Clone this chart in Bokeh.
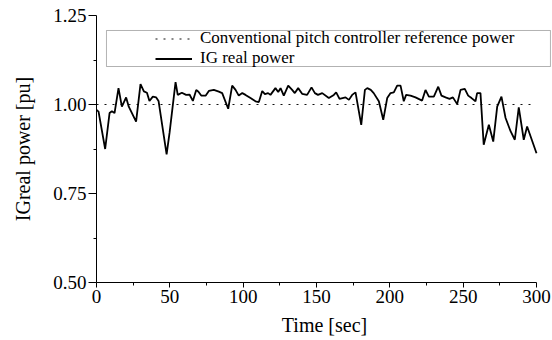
from bokeh.plotting import figure
from bokeh.models import Legend, LegendItem, BoxAnnotation, FixedTicker, NumeralTickFormatter, Range1d
from bokeh.embed import file_html
from bokeh.resources import INLINE

time_s = [0, 1.4, 5.9, 8.9, 10.5, 12.3, 15, 17.3, 20.2, 22, 27, 30, 32.3, 34.4, 36.1, 38.4, 40.7, 42.3,
          47.8, 49.8, 53.9, 55.4, 58.2, 61.1, 63.4, 65.7, 68, 69.5, 71.4, 74.5, 76.6, 80, 83.4, 85.7,
          89.8, 92.5, 94.8, 97, 99.4, 101.6, 105, 108.4, 110.7, 113, 114.8, 117, 118.6, 122, 123.9,
          125.5, 127.7, 130.7, 133.4, 135.2, 137.5, 140.2, 143.6, 146.6, 148.9, 151, 153.9, 158.4,
          161.8, 163.4, 165.7, 169.8, 172.1, 174.3, 176.6, 180.5, 183, 184.6, 187, 189, 192.5, 195.5,
          198.2, 200.5, 202.7, 205, 207.3, 209.5, 211.1, 214.1, 217.5, 222, 224.3, 226.6, 230, 233,
          235.2, 238, 240.7, 243, 245.9, 248.2, 251.1, 253.4, 255.7, 258.4, 259.5, 261.8, 264, 267.5,
          270.5, 273.2, 276.1, 278.9, 282.3, 285.2, 287.9, 291.3, 293.6, 300]
ig_power = [0.985, 0.98, 0.875, 0.976, 0.981, 0.976, 1.046, 0.994, 1.02, 0.994, 0.952, 1.057, 1.037,
            1.033, 1.01, 1.022, 1.02, 1.01, 0.86, 0.92, 1.063, 1.027, 1.033, 1.027, 1.028, 1.01, 1.041,
            1.036, 1.025, 1.025, 1.038, 1.041, 1.036, 1.032, 0.988, 1.053, 1.041, 1.025, 1.032, 1.027,
            1.018, 1.009, 1.007, 1.038, 1.029, 1.032, 1.027, 1.046, 1.035, 1.046, 1.025, 1.053, 1.041,
            1.032, 1.046, 1.03, 1.027, 1.048, 1.032, 1.027, 1.032, 1.018, 1.027, 1.034, 1.016, 1.02,
            1.013, 1.027, 1.034, 0.943, 1.041, 1.046, 1.041, 1.032, 1.009, 0.957, 1.018, 1.032, 1.034,
            1.053, 1.053, 1.009, 1.027, 1.025, 1.02, 1.011, 1.041, 1.022, 1.022, 1.05, 1.025, 1.02,
            1.016, 1.02, 1.001, 1.041, 1.044, 1.025, 1.018, 1.009, 1.032, 1.032, 0.887, 0.943, 0.896,
            0.994, 1.022, 0.962, 0.925, 0.901, 0.992, 0.901, 0.938, 0.863]

ref_time = [0, 298]
ref_power = [1.0, 1.0]

x_ticks = [0, 50, 100, 150, 200, 250, 300]
x_minor = [25, 75, 125, 175, 225, 275]
y_ticks = [0.50, 0.75, 1.00, 1.25]
y_minor = [0.625, 0.875, 1.125]

labels = ["Conventional pitch controller reference power", "IG real power"]

FONT = "Liberation Serif"

# frame spans 0..300 on 440 px; it is widened to the right (axis bounded to 0..300)
# so that the legend box, which overhangs the axis end, stays inside the frame
p = figure(width=552, height=340, output_backend="svg", toolbar_location=None,
           x_range=Range1d(0, 310.9), y_range=Range1d(0.5, 1.25),
           min_border_left=96, min_border_right=0, min_border_top=15, min_border_bottom=58)
p.outline_line_color = None
p.xgrid.grid_line_color = None
p.ygrid.grid_line_color = None
p.xaxis.bounds = (0, 300)

r_ref = p.line(ref_time, ref_power, line_color="#111111", line_width=1.2, line_dash="2 6")
r_ig = p.line(time_s, ig_power, line_color="black", line_width=1.8)

box = BoxAnnotation(left=6.8, right=309.5, top=1.2079, bottom=1.1067,
                    fill_color="white", fill_alpha=1.0, line_color="black", line_width=1)
p.add_layout(box)

legend = Legend(items=[LegendItem(label=labels[0], renderers=[r_ref]),
                       LegendItem(label=labels[1], renderers=[r_ig])],
                location=(59, 214), padding=0, margin=0, spacing=-5,
                glyph_width=37, glyph_height=17, label_height=17, label_standoff=8,
                label_text_font=FONT, label_text_font_size="17px", label_text_color="black",
                border_line_alpha=0, background_fill_alpha=0)
p.add_layout(legend)

for ax in (p.xaxis[0], p.yaxis[0]):
    ax.axis_line_color = "black"
    ax.axis_line_width = 1
    ax.major_tick_line_color = "black"
    ax.minor_tick_line_color = "black"
    ax.major_label_text_font = FONT
    ax.major_label_text_font_size = "19px"
    ax.major_label_text_color = "black"
    ax.axis_label_text_font = FONT
    ax.axis_label_text_font_size = "20px"
    ax.axis_label_text_font_style = "normal"
    ax.axis_label_text_color = "black"
    ax.major_tick_in = 0
    ax.minor_tick_in = 0

p.xaxis.ticker = FixedTicker(ticks=x_ticks, minor_ticks=x_minor)
p.yaxis.ticker = FixedTicker(ticks=y_ticks, minor_ticks=y_minor)
p.yaxis.formatter = NumeralTickFormatter(format="0.00")
p.xaxis.major_tick_out = 5
p.xaxis.minor_tick_out = 3
p.yaxis.major_tick_out = 8
p.yaxis.minor_tick_out = 3
p.xaxis.major_label_standoff = 2
p.yaxis.major_label_standoff = 2
p.xaxis.axis_label_standoff = 8
p.yaxis.axis_label_standoff = 16
p.xaxis.axis_label = "Time [sec]"
p.yaxis.axis_label = "IGreal power [pu]"

open("out.html", "w").write(file_html(p, INLINE))
